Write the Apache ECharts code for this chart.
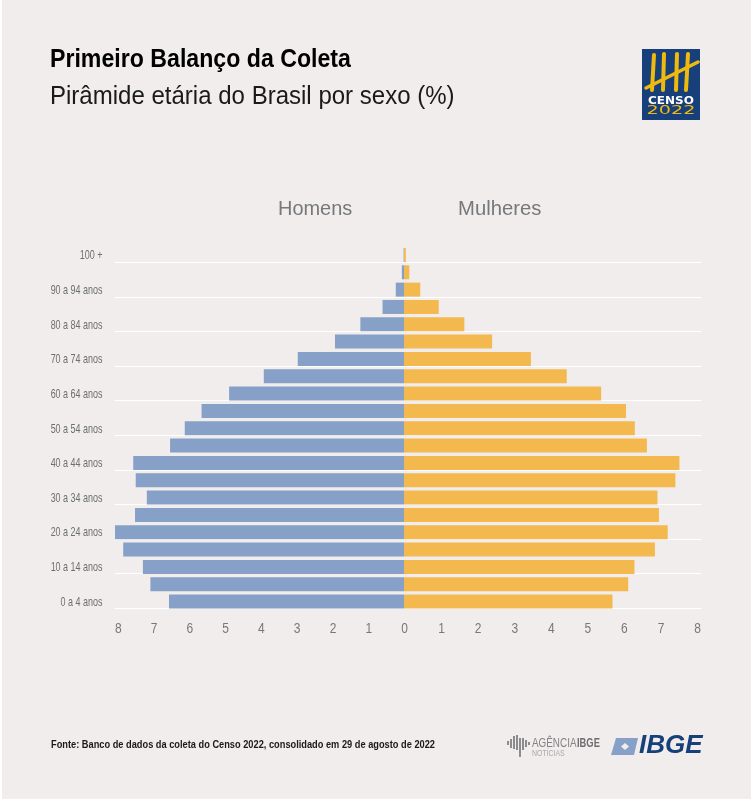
<!doctype html>
<html>
<head>
<meta charset="UTF-8">
<title>Pirâmide etária do Brasil por sexo</title>
<script src="https://cdn.jsdelivr.net/npm/echarts@6/dist/echarts.min.js"></script>
<style>
  html, body { margin: 0; padding: 0; background: #fff; }
  #main { width: 751px; height: 801px; }
</style>
</head>
<body>
<div id="main"></div>
<script>
// faixas etárias, de baixo para cima
var faixas = ['0 a 4 anos','5 a 9 anos','10 a 14 anos','15 a 19 anos','20 a 24 anos','25 a 29 anos','30 a 34 anos',
  '35 a 39 anos','40 a 44 anos','45 a 49 anos','50 a 54 anos','55 a 59 anos','60 a 64 anos','65 a 69 anos',
  '70 a 74 anos','75 a 79 anos','80 a 84 anos','85 a 89 anos','90 a 94 anos','95 a 99 anos','100 +'];
var homens = [6.57,7.09,7.30,7.85,8.08,7.52,7.19,7.50,7.57,6.54,6.13,5.66,4.89,3.92,2.97,1.93,1.22,0.60,0.23,0.06,0.01];
var mulheres = [5.70,6.13,6.30,6.86,7.21,6.97,6.93,7.42,7.53,6.64,6.31,6.07,5.39,4.45,3.47,2.41,1.65,0.95,0.445,0.145,0.05];
var ticks = [0,1,2,3,4,5,6,7,8];

var fonte = '"Liberation Sans", sans-serif';
var cinza = '#77787b';
var cinzaEscuro = '#6d6e71';
var fundo = '#f0edec';
var azul = '#173f79';
var ouro = '#f0b90f';

var myChart = echarts.init(document.getElementById('main'));

// a fonte original é condensada: o texto é desenhado com scaleX
function texto(str, x, y, font, fill, sx, align) {
  return { type: 'text', z: 6, silent: true, x: x, y: y, scaleX: sx,
    style: { x: 0, y: 0, text: str, font: font, fill: fill, align: align || 'left', verticalAlign: 'middle' } };
}
function barra(x, y, w, h) {
  return { type: 'rect', z: 6, silent: true, shape: { x: x, y: y, width: w, height: h }, style: { fill: '#8a8c8e' } };
}
function risco(x1, y1, x2, y2, w) {
  return { type: 'line', z: 6, silent: true, shape: { x1: x1, y1: y1, x2: x2, y2: y2 }, style: { stroke: ouro, lineWidth: w, lineCap: 'round' } };
}

function eixoX(grid, inverso, max) {
  return { type: 'value', gridIndex: grid, inverse: inverso, min: 0, max: max, interval: 1,
    axisLine: { show: false }, axisTick: { show: false }, splitLine: { show: false }, axisLabel: { show: false } };
}

var option = {
  animation: false,
  backgroundColor: '#fff',
  grid: [
    { left: 115, width: 289, top: 246.3, height: 363.9 },
    { left: 404, width: 297, top: 246.3, height: 363.9 },
    // só para as linhas brancas, que ficam no pé das barras
    { left: 115, width: 586, top: 262.3, height: 346 }
  ],
  xAxis: [
    eixoX(0, true, 8.08),
    eixoX(1, false, 8.12),
    { type: 'value', gridIndex: 2, show: false, min: 0, max: 1 }
  ],
  yAxis: [
    { type: 'category', gridIndex: 0, data: faixas, axisLine: { show: false, onZero: false }, axisTick: { show: false }, axisLabel: { show: false } },
    { type: 'category', gridIndex: 1, data: faixas, axisLine: { show: false, onZero: false }, axisTick: { show: false }, axisLabel: { show: false } },
    { type: 'category', gridIndex: 2, data: faixas.slice(1), axisLine: { show: false }, axisTick: { show: false }, axisLabel: { show: false },
      splitLine: { show: true, interval: function (i) { return i % 2 === 0; }, lineStyle: { color: '#ffffff', width: 1 } } }
  ],
  series: [
    { name: 'Homens', type: 'bar', xAxisIndex: 0, yAxisIndex: 0, data: homens, barWidth: 14, itemStyle: { color: '#86a0c8' }, z: 3 },
    { name: 'Mulheres', type: 'bar', xAxisIndex: 1, yAxisIndex: 1, data: mulheres, barWidth: 14, itemStyle: { color: '#f3b94e' }, z: 3 }
  ]
};
myChart.setOption(option);

var g = [
  // fundo cinza
  { type: 'rect', z: -10, silent: true, shape: { x: 2, y: 0, width: 749, height: 799 }, style: { fill: fundo } },
  texto('Primeiro Balanço da Coleta', 50, 59.5, 'bold 26px ' + fonte, '#000', 0.89),
  texto('Pirâmide etária do Brasil por sexo (%)', 50, 96.5, '26px ' + fonte, '#1a1a1a', 0.924),
  texto('Homens', 278, 209, '21px ' + fonte, cinza, 0.95),
  texto('Mulheres', 458, 209, '21px ' + fonte, cinza, 0.965),
  texto('Fonte: Banco de dados da coleta do Censo 2022, consolidado em 29 de agosto de 2022', 51, 745.5, 'bold 10px ' + fonte, '#1a1a1a', 0.925),
  // selo do Censo 2022
  { type: 'rect', z: 5, silent: true, shape: { x: 642, y: 49, width: 58, height: 71 }, style: { fill: azul } },
  risco(654, 55, 652, 90, 4), risco(664, 54, 663, 90, 4), risco(677, 54, 676, 90, 4), risco(688, 54, 686, 90, 4),
  risco(646, 88, 698, 62, 3.5),
  texto('CENSO', 671, 101, 'bold 10px "DejaVu Sans", sans-serif', '#fff', 1.2, 'center'),
  texto('2022', 671, 111, '12px "DejaVu Sans", sans-serif', ouro, 1.6, 'center'),
  // logos do rodapé
  texto('AGÊNCIA', 532, 743, '13px ' + fonte, '#808285', 0.76),
  texto('IBGE', 577, 743, 'bold 13px ' + fonte, cinzaEscuro, 0.72),
  texto('NOTÍCIAS', 532, 754, '9px ' + fonte, '#a7a9ac', 0.77),
  barra(507, 741, 2, 4), barra(510, 739, 2, 9), barra(513, 736, 2, 13), barra(516, 735, 2, 15),
  barra(519, 738, 2, 19), barra(522, 738, 2, 12), barra(525, 740, 2, 7), barra(528, 742, 2, 3),
  { type: 'polygon', z: 6, silent: true, shape: { points: [[616, 738], [638, 738], [634, 755], [611, 755]] }, style: { fill: '#86a0c8' } },
  { type: 'polygon', z: 6, silent: true, shape: { points: [[621, 746.5], [625, 743], [629, 746.5], [625, 750]] }, style: { fill: fundo } },
  texto('IBGE', 639, 746.5, 'italic bold 25px ' + fonte, azul, 1.04)
];

// rótulos dos eixos, posicionados pelas escalas do próprio gráfico
ticks.forEach(function (v) {
  var y = 628.5;
  if (v > 0) {
    g.push(texto(String(v), myChart.convertToPixel({ xAxisIndex: 0 }, v) + 0.5, y, '15px ' + fonte, cinza, 0.8, 'center'));
  }
  g.push(texto(String(v), myChart.convertToPixel({ xAxisIndex: 1 }, v) + (v > 0 ? 1 : 0.5), y, '15px ' + fonte, cinza, 0.8, 'center'));
});
faixas.forEach(function (f, i) {
  if (i % 2 === 0) {
    g.push(texto(f, 102.5, myChart.convertToPixel({ yAxisIndex: 0 }, i) + 0.7, '13px ' + fonte, cinzaEscuro, 0.69, 'right'));
  }
});
myChart.setOption({ graphic: g });
</script>
</body>
</html>
